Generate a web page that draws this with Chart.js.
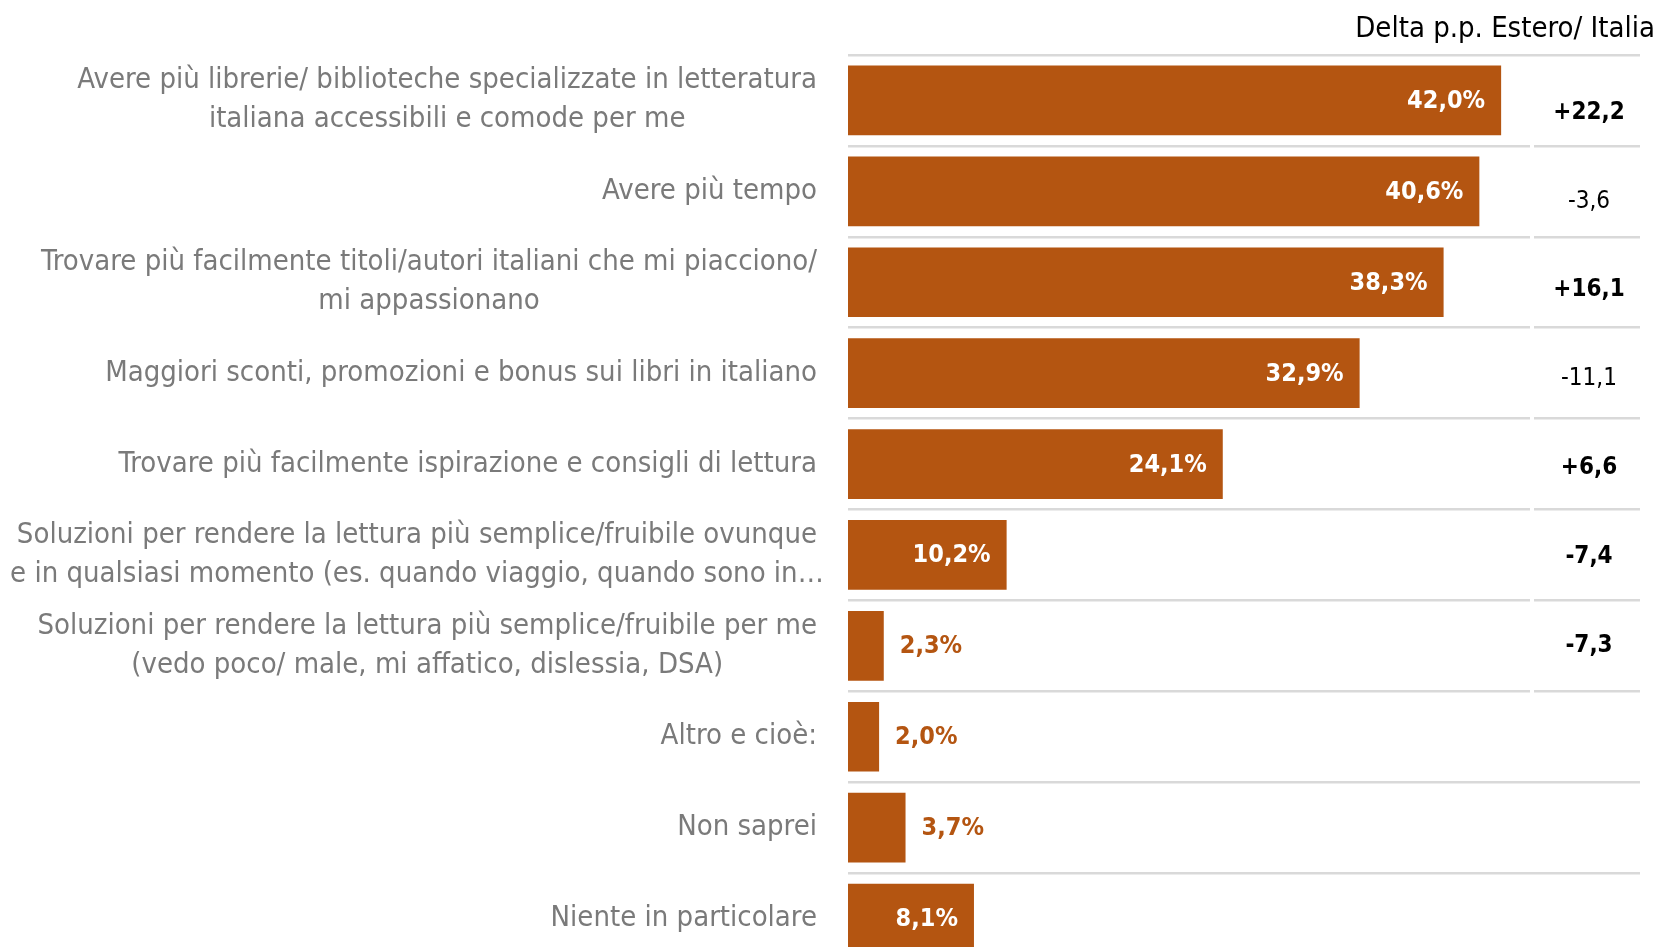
<!DOCTYPE html>
<html>
<head>
<meta charset="utf-8">
<script src="https://cdn.jsdelivr.net/npm/chart.js@4/dist/chart.umd.min.js"></script>
<style>
  html, body { margin: 0; padding: 0; background: #fff; overflow: hidden; }
  #wrap { width: 1657px; height: 970px; }
</style>
</head>
<body>
<div id="wrap"><canvas id="chart" width="1657" height="970"></canvas></div>
<script>
const categories = [
  ['Avere più librerie/ biblioteche specializzate in letteratura', 'italiana accessibili e comode per me'],
  ['Avere più tempo'],
  ['Trovare più facilmente titoli/autori italiani che mi piacciono/', 'mi appassionano'],
  ['Maggiori sconti, promozioni e bonus sui libri in italiano'],
  ['Trovare più facilmente ispirazione e consigli di lettura'],
  ['Soluzioni per rendere la lettura più semplice/fruibile ovunque', 'e in qualsiasi momento (es. quando viaggio, quando sono in…'],
  ['Soluzioni per rendere la lettura più semplice/fruibile per me', '(vedo poco/ male, mi affatico, dislessia, DSA)'],
  ['Altro e cioè:'],
  ['Non saprei'],
  ['Niente in particolare'],
]
const shares = [42.0, 40.6, 38.3, 32.9, 24.1, 10.2, 2.3, 2.0, 3.7, 8.1]
const deltas = [22.2, -3.6, 16.1, -11.1, 6.6, -7.4, -7.3, null, null, null]
const deltaBold = [true, false, true, false, true, true, true, false, false, false]
const deltaTitle = 'Delta p.p. Estero/ Italia'

const FONT = '"Liberation Sans Narrow", "DejaVu Sans Condensed", sans-serif'
const BAR = '#B45511'

const fmt = (v, d) => v.toFixed(d).replace('.', ',')

// category labels: block right-aligned on its first line, lines centered
const labelsPlugin = {
  id: 'labels',
  afterDraw (chart) {
    const ctx = chart.ctx
    const y = chart.scales.y
    const right = 817
    const lh = 39
    ctx.save()
    ctx.font = '29px ' + FONT
    ctx.fillStyle = '#7a7a7a'
    ctx.textAlign = 'center'
    ctx.textBaseline = 'middle'
    categories.forEach((lines, i) => {
      const w = ctx.measureText(lines[0]).width
      const cx = right - w / 2
      const cy = y.getPixelForValue(i)
      lines.forEach((l, j) => {
        ctx.fillText(l, cx, cy + (j - (lines.length - 1) / 2) * lh)
      })
    })
    ctx.restore()
  },
}

// values on bars + delta column + header
const valuesPlugin = {
  id: 'values',
  afterDatasetsDraw (chart) {
    const ctx = chart.ctx
    const meta = chart.getDatasetMeta(0)
    ctx.save()
    ctx.textBaseline = 'middle'
    ctx.font = 'bold 25px ' + FONT
    meta.data.forEach((bar, i) => {
      const txt = fmt(shares[i], 1) + '%'
      if (shares[i] >= 8) {
        ctx.fillStyle = '#fff'
        ctx.textAlign = 'right'
        ctx.fillText(txt, bar.x - 16, bar.y + 1)
      } else {
        ctx.fillStyle = BAR
        ctx.textAlign = 'left'
        ctx.fillText(txt, bar.x + 16, bar.y + 1)
      }
    })

    const ys = chart.scales.y
    ctx.fillStyle = '#000'
    ctx.textAlign = 'center'
    deltas.forEach((d, i) => {
      if (d === null) return
      ctx.font = (deltaBold[i] ? 'bold ' : '') + '24px ' + FONT
      const txt = (d > 0 ? '+' : '') + fmt(d, 1)
      ctx.fillText(txt, 1589, ys.getPixelForValue(i) + 12 - 2 * i)
    })

    // split between plot area and delta column
    ctx.fillStyle = '#fff'
    const top = ys.getPixelForValue(0.5) - 3
    const bot = ys.getPixelForValue(6.5) + 3
    ctx.fillRect(1530, top, 4, bot - top)

    ctx.fillStyle = '#000'
    ctx.font = '29px ' + FONT
    ctx.textAlign = 'right'
    ctx.fillText(deltaTitle, 1655, 29)
    ctx.restore()
  },
}

new Chart(document.getElementById('chart'), {
  type: 'bar',
  data: {
    labels: categories,
    datasets: [{
      data: shares,
      backgroundColor: BAR,
      barPercentage: 0.767,
      categoryPercentage: 1,
    }],
  },
  options: {
    indexAxis: 'y',
    responsive: false,
    animation: false,
    devicePixelRatio: 1,
    layout: { padding: { top: 55, right: 17, bottom: 6, left: 0 } },
    plugins: { legend: { display: false }, tooltip: { enabled: false } },
    scales: {
      x: { display: false, min: 0, max: 50.93 },
      y: {
        offset: true,
        grid: { offset: true, color: '#d9d9d9', lineWidth: 2.5, drawTicks: false },
        border: { display: false },
        ticks: { display: false },
        afterFit (s) { s.width = 848 },
      },
    },
  },
  plugins: [labelsPlugin, valuesPlugin],
})
</script>
</body>
</html>
